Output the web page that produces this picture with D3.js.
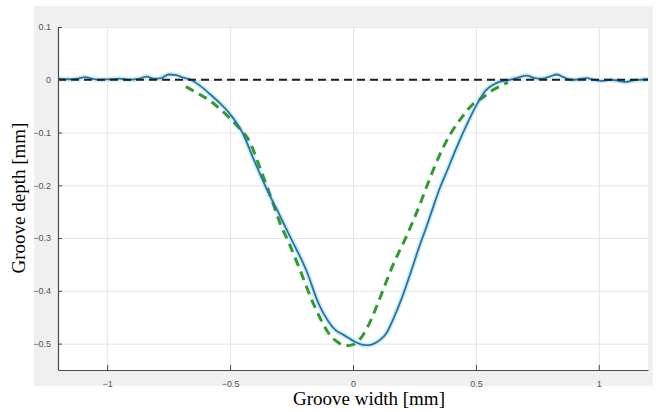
<!DOCTYPE html>
<html>
<head>
<meta charset="utf-8">
<script src="https://cdn.jsdelivr.net/npm/d3@7"></script>
<style>
  body { margin: 0; background: #fff; }
  svg { display: block; }
</style>
</head>
<body>
<svg id="chart"></svg>
<script>
// Measured groove profile (blue solid line)
const measuredX = [-1.20, -1.16, -1.12, -1.09, -1.06, -1.03, -0.99, -0.95, -0.91, -0.87, -0.84, -0.81, -0.78, -0.75, -0.72, -0.69, -0.66, -0.62, -0.58, -0.54, -0.50, -0.45, -0.40, -0.343, -0.30, -0.273, -0.25, -0.19, -0.14, -0.10, -0.07, -0.04, -0.016, 0.01, 0.037, 0.06, 0.086, 0.11, 0.135, 0.165, 0.20, 0.235, 0.269, 0.30, 0.322, 0.351, 0.385, 0.42, 0.46, 0.502, 0.54, 0.584, 0.637, 0.67, 0.706, 0.74, 0.77, 0.80, 0.83, 0.86, 0.89, 0.92, 0.95, 0.98, 1.01, 1.05, 1.08, 1.11, 1.14, 1.17, 1.20];
const measuredDepth = [0.002, 0.001, 0.002, 0.005, 0.002, 0.000, 0.001, 0.002, 0.000, 0.002, 0.006, 0.002, 0.003, 0.010, 0.009, 0.004, 0.000, -0.012, -0.028, -0.045, -0.065, -0.100, -0.155, -0.215, -0.255, -0.281, -0.303, -0.361, -0.424, -0.458, -0.475, -0.483, -0.490, -0.497, -0.502, -0.503, -0.500, -0.493, -0.481, -0.452, -0.412, -0.365, -0.317, -0.277, -0.247, -0.208, -0.170, -0.130, -0.088, -0.048, -0.020, -0.006, 0.000, 0.004, 0.008, 0.003, 0.002, 0.006, 0.010, 0.004, 0.000, 0.001, 0.003, 0.000, -0.002, 0.000, -0.002, -0.004, -0.001, 0.000, 0.001];

// Fitted profile (green dashed line)
const fittedX = [-0.68, -0.63, -0.575, -0.53, -0.494, -0.46, -0.424, -0.38, -0.33, -0.294, -0.26, -0.22, -0.167, -0.13, -0.098, -0.06, -0.029, 0.0, 0.024, 0.06, 0.094, 0.125, 0.159, 0.216, 0.269, 0.31, 0.35, 0.40, 0.445, 0.49, 0.527, 0.56, 0.60, 0.63];
const fittedDepth = [-0.013, -0.026, -0.042, -0.060, -0.076, -0.093, -0.114, -0.165, -0.228, -0.275, -0.310, -0.355, -0.418, -0.455, -0.481, -0.498, -0.504, -0.502, -0.494, -0.468, -0.432, -0.395, -0.355, -0.298, -0.240, -0.190, -0.145, -0.100, -0.070, -0.045, -0.034, -0.022, -0.012, -0.005];

// Reference (surface) line
const surfaceX = [-1.2, 1.2];
const surfaceDepth = [0, 0];

const xTicks = [-1, -0.5, 0, 0.5, 1];
const yTicks = [0.1, 0, -0.1, -0.2, -0.3, -0.4, -0.5];

class GrooveChart {
    constructor(_config) {
        this.config = {
            parentElement: _config.parentElement,
            containerWidth: 656,
            containerHeight: 412,
            margin: { top: 27, right: 8, bottom: 42, left: 58 }
        };
        this.initVis();
    }

    initVis() {
        let vis = this;

        vis.config.width = vis.config.containerWidth - vis.config.margin.left - vis.config.margin.right;
        vis.config.height = vis.config.containerHeight - vis.config.margin.top - vis.config.margin.bottom;

        vis.svg = d3.select(vis.config.parentElement)
            .attr('width', vis.config.containerWidth)
            .attr('height', vis.config.containerHeight);

        // grey figure background, like the matlab window
        vis.svg.append('rect')
            .attr('x', 34).attr('y', 6)
            .attr('width', 619).attr('height', 380)
            .attr('fill', '#f0f0f0');

        vis.chart = vis.svg.append('g')
            .attr('transform', `translate(${vis.config.margin.left},${vis.config.margin.top})`);

        vis.chart.append('rect')
            .attr('width', vis.config.width)
            .attr('height', vis.config.height)
            .attr('fill', '#fff');

        vis.xScale = d3.scaleLinear().domain([-1.2, 1.2]).range([0, vis.config.width]);
        vis.yScale = d3.scaleLinear().domain([-0.55, 0.1]).range([vis.config.height, 0]);

        vis.line = d3.line()
            .x(d => vis.xScale(d[0]))
            .y(d => vis.yScale(d[1]))
            .curve(d3.curveMonotoneX);

        vis.renderVis();
    }

    renderVis() {
        let vis = this;

        // grid lines
        vis.chart.append('g')
            .attr('class', 'grid')
            .call(d3.axisBottom(vis.xScale).tickValues(xTicks).tickSize(vis.config.height).tickFormat(''))
            .call(g => g.select('.domain').remove())
            .call(g => g.selectAll('line').attr('stroke', '#e4e4e4'));

        vis.chart.append('g')
            .attr('class', 'grid')
            .call(d3.axisLeft(vis.yScale).tickValues(yTicks).tickSize(-vis.config.width).tickFormat(''))
            .call(g => g.select('.domain').remove())
            .call(g => g.selectAll('line').attr('stroke', '#e4e4e4'));

        const zip = (xs, ys) => xs.map((x, i) => [x, ys[i]]);

        // measured profile with a soft halo
        const measured = zip(measuredX, measuredDepth);
        vis.chart.append('path')
            .attr('d', vis.line(measured))
            .attr('fill', 'none')
            .attr('stroke', '#c9eef6')
            .attr('stroke-width', 5)
            .attr('stroke-linejoin', 'round');

        vis.chart.append('path')
            .attr('d', vis.line(zip(fittedX, fittedDepth)))
            .attr('fill', 'none')
            .attr('stroke', '#2f9b30')
            .attr('stroke-width', 3)
            .attr('stroke-dasharray', '9,6');

        vis.chart.append('path')
            .attr('d', vis.line(measured))
            .attr('fill', 'none')
            .attr('stroke', '#2d70a3')
            .attr('stroke-width', 1.8)
            .attr('stroke-linejoin', 'round');

        // surface line at zero, drawn last so it sits on the blue wiggles
        vis.chart.append('path')
            .attr('d', vis.line(zip(surfaceX, surfaceDepth)))
            .attr('fill', 'none')
            .attr('stroke', '#1e1e1e')
            .attr('stroke-width', 2)
            .attr('stroke-dasharray', '8,5');

        // axes, ticks pointing inwards
        const xAxis = vis.chart.append('g')
            .attr('transform', `translate(0,${vis.config.height})`)
            .call(d3.axisBottom(vis.xScale).tickValues(xTicks).tickSizeInner(-5).tickSizeOuter(0).tickPadding(11).tickFormat(d3.format('')));

        const yAxis = vis.chart.append('g')
            .call(d3.axisLeft(vis.yScale).tickValues(yTicks).tickSizeInner(-4).tickSizeOuter(0).tickPadding(7).tickFormat(d3.format('')));

        [xAxis, yAxis].forEach(ax => {
            ax.select('.domain').attr('stroke', '#4a4a4a').attr('stroke-width', 1.2);
            ax.selectAll('.tick line').attr('stroke', '#4a4a4a');
            ax.selectAll('.tick text')
                .attr('fill', '#555')
                .style('font-family', '"Liberation Sans", Arial, sans-serif')
                .style('font-size', '9px');
        });

        // axis titles
        vis.svg.append('text')
            .text('Groove width [mm]')
            .attr('x', 369)
            .attr('y', 405)
            .attr('text-anchor', 'middle')
            .attr('fill', '#000')
            .style('font-family', '"Liberation Serif", "Times New Roman", serif')
            .style('font-size', '19px');

        vis.svg.append('text')
            .text('Groove depth [mm]')
            .attr('transform', 'translate(25,198) rotate(-90)')
            .attr('text-anchor', 'middle')
            .attr('fill', '#000')
            .style('font-family', '"Liberation Serif", "Times New Roman", serif')
            .style('font-size', '19px');
    }
}

new GrooveChart({ parentElement: '#chart' });
</script>
</body>
</html>
